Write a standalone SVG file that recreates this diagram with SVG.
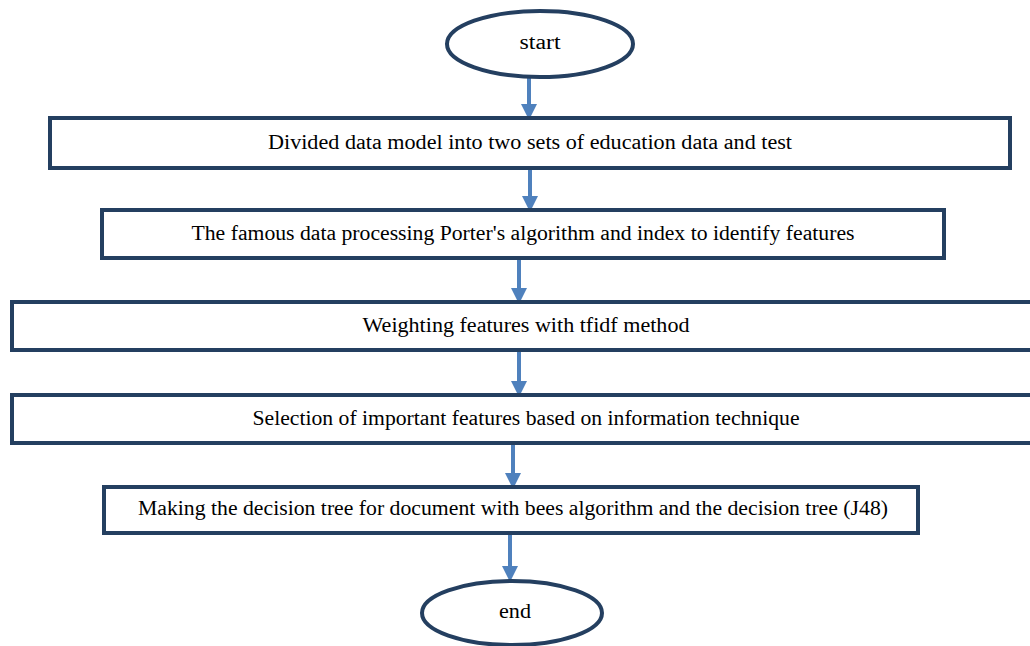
<svg xmlns="http://www.w3.org/2000/svg" width="1030" height="646" viewBox="0 0 1030 646">
<style>
.n{fill:#fff;stroke:#243f60;stroke-width:4}
.t{font-family:"Liberation Serif","Times New Roman",serif;font-size:20px;fill:#000;text-anchor:middle;dominant-baseline:central}
.c{stroke:#4f81bd;stroke-width:4;fill:none}
</style>
<defs>
<marker id="ah" markerWidth="4" markerHeight="4" refX="3" refY="2" orient="auto" markerUnits="strokeWidth">
<path d="M0,0 L4,2 L0,4 Z" fill="#4f81bd"/>
</marker>
</defs>
<rect width="1030" height="646" fill="#fff"/>
<g id="connectors">
<line class="c" x1="529" y1="78" x2="529" y2="116" marker-end="url(#ah)"/>
<line class="c" x1="530" y1="168" x2="530" y2="208" marker-end="url(#ah)"/>
<line class="c" x1="519" y1="258" x2="519" y2="300" marker-end="url(#ah)"/>
<line class="c" x1="519" y1="350" x2="519" y2="393" marker-end="url(#ah)"/>
<line class="c" x1="513" y1="443" x2="513" y2="485" marker-end="url(#ah)"/>
<line class="c" x1="510" y1="533" x2="510" y2="578" marker-end="url(#ah)"/>
</g>
<g id="start">
<ellipse class="n" cx="540" cy="44" rx="93" ry="33"/>
<text class="t" x="540" y="42" textLength="41" lengthAdjust="spacingAndGlyphs">start</text>
</g>
<g id="step1">
<rect class="n" x="50" y="118" width="960" height="50"/>
<text class="t" x="530" y="142" textLength="524" lengthAdjust="spacingAndGlyphs">Divided data model into two sets of education data and test</text>
</g>
<g id="step2">
<rect class="n" x="102" y="210" width="842" height="48"/>
<text class="t" x="523" y="233" textLength="663" lengthAdjust="spacingAndGlyphs">The famous data processing Porter's algorithm and index to identify features</text>
</g>
<g id="step3">
<rect class="n" x="12" y="302" width="1024" height="48"/>
<text class="t" x="526" y="325" textLength="327" lengthAdjust="spacingAndGlyphs">Weighting features with tfidf method</text>
</g>
<g id="step4">
<rect class="n" x="12" y="395" width="1024" height="48"/>
<text class="t" x="526" y="418" textLength="547" lengthAdjust="spacingAndGlyphs">Selection of important features based on information technique</text>
</g>
<g id="step5">
<rect class="n" x="104" y="487" width="814" height="46"/>
<text class="t" x="513" y="508" textLength="750" lengthAdjust="spacingAndGlyphs">Making the decision tree for document with bees algorithm and the decision tree (J48)</text>
</g>
<g id="end">
<ellipse class="n" cx="512" cy="613" rx="90" ry="32"/>
<text class="t" x="515" y="611" textLength="32" lengthAdjust="spacingAndGlyphs">end</text>
</g>
</svg>
